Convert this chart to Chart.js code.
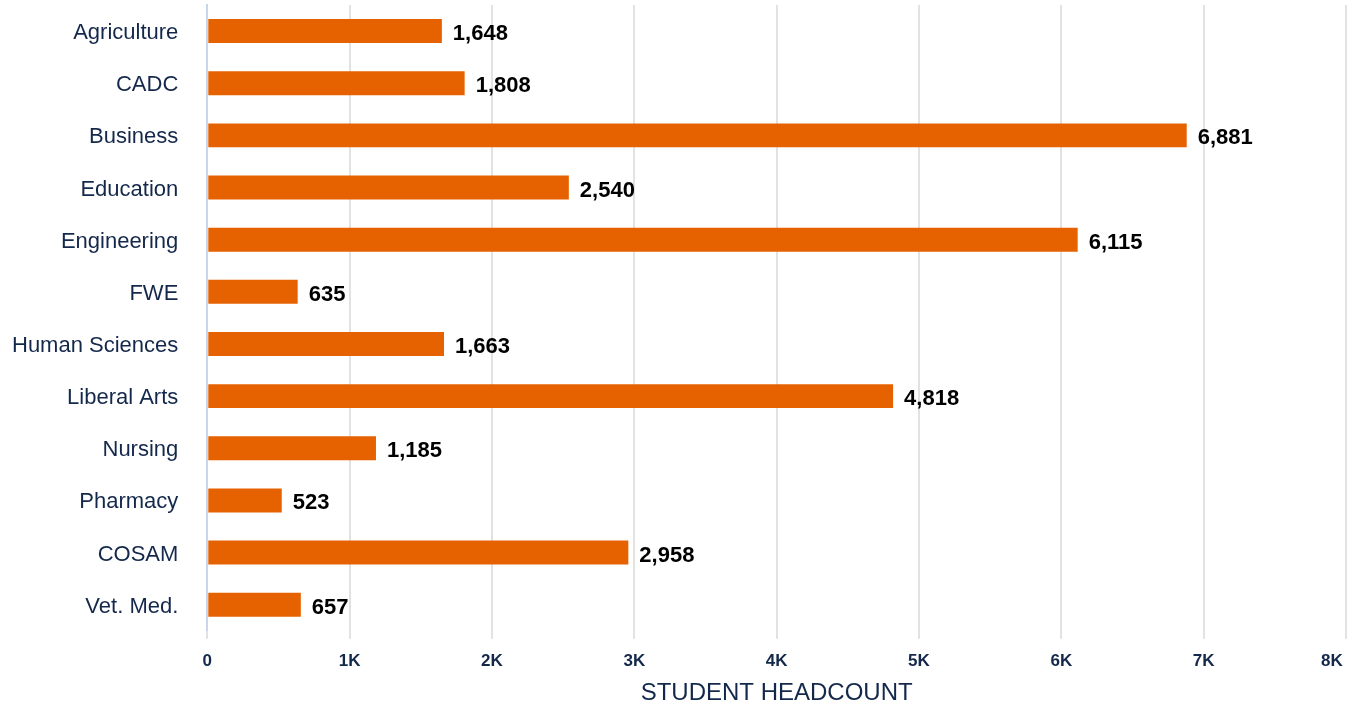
<!DOCTYPE html>
<html>
<head>
<meta charset="utf-8">
<title>Student Headcount by College</title>
<script src="https://cdn.jsdelivr.net/npm/chart.js@4.4.0/dist/chart.umd.min.js"></script>
<style>
  html, body { margin: 0; padding: 0; background: #fff; }
  #wrap { width: 1361px; height: 705px; position: relative; }
</style>
</head>
<body>
<div id="wrap"><canvas id="headcount-chart"></canvas></div>
<script>
// Colleges and their student headcounts
const colleges = ['Agriculture', 'CADC', 'Business', 'Education', 'Engineering', 'FWE',
  'Human Sciences', 'Liberal Arts', 'Nursing', 'Pharmacy', 'COSAM', 'Vet. Med.'];
const headcounts = [1648, 1808, 6881, 2540, 6115, 635, 1663, 4818, 1185, 523, 2958, 657];
const xTickLabels = ['0', '1K', '2K', '3K', '4K', '5K', '6K', '7K', '8K'];

const navy = '#14284b';
const barColor = '#e66100';
const fontFamily = '"Liberation Sans", Arial, sans-serif';

// Writes the value just past the end of each bar
const valueLabels = {
  id: 'valueLabels',
  afterDatasetsDraw(chart) {
    const ctx = chart.ctx;
    const meta = chart.getDatasetMeta(0);
    ctx.save();
    ctx.font = 'bold 22px ' + fontFamily;
    ctx.fillStyle = '#000';
    ctx.textAlign = 'left';
    ctx.textBaseline = 'middle';
    meta.data.forEach((bar, i) => {
      ctx.fillText(headcounts[i].toLocaleString('en-US'), bar.x + 11, bar.y + 3);
    });
    ctx.restore();
  }
};

// Let layout.padding alone decide the margins around the plot,
// and count the tick padding only once in the axis size
function tightAxis(scale) {
  const pad = scale.options.ticks.padding;
  if (scale.isHorizontal()) {
    scale.height -= pad;
  } else {
    scale.width -= pad;
  }
  scale.paddingLeft = 0;
  scale.paddingRight = 0;
  scale.paddingTop = 0;
  scale.paddingBottom = 0;
}

const ctx = document.getElementById('headcount-chart').getContext('2d');
new Chart(ctx, {
  type: 'bar',
  data: {
    labels: colleges,
    datasets: [{
      data: headcounts,
      backgroundColor: barColor,
      borderWidth: 0,
      categoryPercentage: 0.46,
      barPercentage: 1
    }]
  },
  options: {
    indexAxis: 'y',
    responsive: true,
    maintainAspectRatio: false,
    animation: false,
    layout: { padding: { top: 5, right: 15, left: 12, bottom: 0 } },
    plugins: {
      legend: { display: false },
      tooltip: { enabled: false }
    },
    scales: {
      x: {
        min: 0,
        max: 8000,
        afterFit: tightAxis,
        ticks: {
          stepSize: 1000,
          padding: 12,
          color: navy,
          font: { family: fontFamily, size: 17, weight: 'bold' },
          // last label is nudged left so it stays clear of the edge
          callback: (value, index) =>
            index === xTickLabels.length - 1 ? xTickLabels[index] + '      ' : xTickLabels[index]
        },
        grid: { color: '#e2e2e2', lineWidth: 2, tickLength: 8 },
        border: { display: false },
        title: {
          display: true,
          text: 'STUDENT HEADCOUNT',
          color: navy,
          font: { family: fontFamily, size: 24 },
          padding: { top: 8, bottom: -3 }
        }
      },
      y: {
        afterFit: tightAxis,
        ticks: {
          padding: 21,
          labelOffset: 2,
          color: navy,
          font: { family: fontFamily, size: 22 }
        },
        grid: { display: false },
        border: { display: true, color: '#c9d5ea', width: 2 }
      }
    }
  },
  plugins: [valueLabels]
});
</script>
</body>
</html>
